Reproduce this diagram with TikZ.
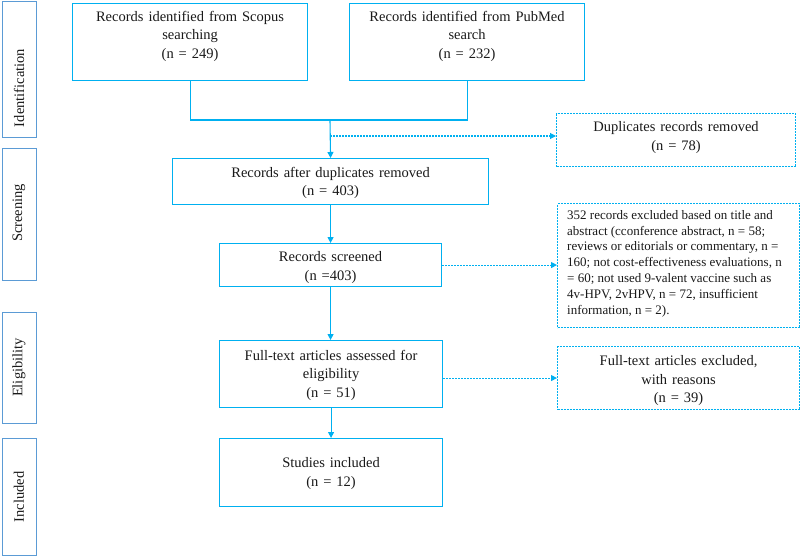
\documentclass[tikz,border=0pt]{standalone}
\usepackage{fontspec}
\setmainfont{Liberation Serif}
\usetikzlibrary{arrows.meta,calc}
\definecolor{mainblue}{RGB}{0,176,240}
\definecolor{sideblue}{RGB}{91,155,213}
\newcommand\mainfontsel{\fontsize{14.5}{18.3}\selectfont\spaceskip=0.34em plus 0.1em\relax}
\begin{document}
\begin{tikzpicture}[x=1pt,y=-1pt,
 mainbox/.style={draw=mainblue,line width=1.1pt,inner sep=0,anchor=north west},
 dashbox/.style={mainbox,dash pattern=on 2pt off 1pt},
 sidebox/.style={draw=sideblue,line width=1.1pt,inner sep=0,anchor=north west},
 txt/.style={font=\mainfontsel,align=center,anchor=north,inner sep=0,text=black!90},
 smalltxt/.style={font=\fontsize{13}{15.8}\selectfont,align=left,anchor=north west,inner sep=0,text=black!90},
 sidetxt/.style={font=\fontsize{14.5}{17}\selectfont,rotate=90,inner sep=0,text=black!90},
 conn/.style={draw=mainblue,line width=1.1pt},
 arr/.style={conn,-{Triangle[width=6pt,length=6pt]}},
 dasharr/.style={arr,dash pattern=on 2pt off 1pt}]
\useasboundingbox (0,0) rectangle (800,556);
% side labels
\node[sidebox,minimum width=34pt,minimum height=136pt] (ident) at (2,1) {};
\node[sidebox,minimum width=34pt,minimum height=132pt] (screen) at (2,148) {};
\node[sidebox,minimum width=34pt,minimum height=111pt] (elig) at (2,312) {};
\node[sidebox,minimum width=34pt,minimum height=117pt] (incl) at (2,438) {};
\node[sidetxt] (identT) at (19,88) {Identification};
\node[sidetxt] (screenT) at (19,213) {Screening};
\node[sidetxt] (eligT) at (19,367.5) {Eligibility};
\node[sidetxt] (inclT) at (19,497) {Included};
% boxes
\node[mainbox,minimum width=235pt,minimum height=77pt] (scopus) at (72,3) {};
\node[mainbox,minimum width=235pt,minimum height=77pt] (pubmed) at (349,3) {};
\node[dashbox,minimum width=239pt,minimum height=53pt] (dup) at (556,113) {};
\node[mainbox,minimum width=316pt,minimum height=46pt] (afterdup) at (172,158) {};
\node[mainbox,minimum width=222pt,minimum height=43pt] (screened) at (219,243) {};
\node[dashbox,minimum width=242pt,minimum height=124pt] (excl) at (557,203) {};
\node[mainbox,minimum width=223pt,minimum height=67pt] (fulltext) at (219,340) {};
\node[dashbox,minimum width=242pt,minimum height=63pt] (ftexcl) at (557,346) {};
\node[mainbox,minimum width=223pt,minimum height=68pt] (studies) at (219,438) {};
% texts
\node[txt] (scopusT) at ($(scopus.north)+(0,8)$) {Records identified from Scopus\\searching\\(n = 249)};
\node[txt] (pubmedT) at ($(pubmed.north)+(0,8)$) {Records identified from PubMed\\search\\(n = 232)};
\node[txt] (dupT) at ($(dup.north)+(0,8.5)$) {Duplicates records removed\\(n = 78)};
\node[txt] (afterdupT) at ($(afterdup.north)+(0,9)$) {Records after duplicates removed\\(n = 403)};
\node[txt] (screenedT) at ($(screened.north)+(0,8.5)$) {Records screened\\(n =403)};
\node[smalltxt] (exclT) at ($(excl.north west)+(10,7)$) {352 records excluded based on title and\\abstract (cconference abstract, n = 58;\\reviews or editorials or commentary, n =\\160; not cost-effectiveness evaluations, n\\= 60; not used 9-valent vaccine such as\\4v-HPV, 2vHPV, n = 72, insufficient\\information, n = 2).};
\node[txt] (fulltextT) at ($(fulltext.north)+(0,10)$) {Full-text articles assessed for\\eligibility\\(n = 51)};
\node[txt] (ftexclT) at ($(ftexcl.north)+(0,9.5)$) {Full-text articles excluded,\\with reasons\\(n = 39)};
\node[txt] (studiesT) at ($(studies.north)+(0,19.5)$) {Studies included\\(n = 12)};
% connectors
\coordinate (join) at (330,120);
\coordinate (dupjoin) at (330,136);
\draw[conn] (scopus.south) |- (join) -| (pubmed.south);
\draw[arr] (join) -- (afterdup.north);
\draw[dasharr] (dupjoin) -- (dupjoin -| dup.west);
\draw[arr] (afterdup.south) -- (afterdup.south |- screened.north);
\draw[dasharr] (screened.east) -- (screened.east -| excl.west);
\draw[arr] (screened.south) -- (screened.south |- fulltext.north);
\draw[dasharr] (ftexcl.west -| fulltext.east) -- (ftexcl.west);
\draw[arr] (fulltext.south) -- (fulltext.south |- studies.north);
\end{tikzpicture}
\end{document}
